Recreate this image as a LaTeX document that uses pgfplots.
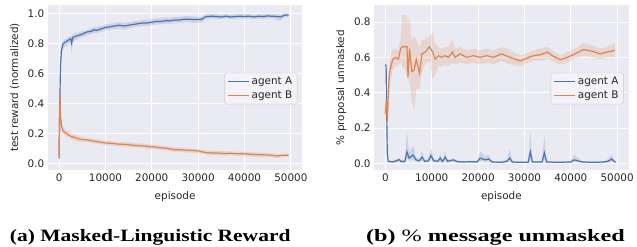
\documentclass[border=0pt]{standalone}
\usepackage{pgfplots}
\pgfplotsset{compat=1.18}
\usepackage{pgfplotstable}
\usepgfplotslibrary{fillbetween}
\usepackage{fontspec}
\setmainfont{Liberation Serif}
\newfontfamily\dejavu{DejaVu Sans}
\newcommand\sbfont{\dejavu\fontsize{10.5}{12}\selectfont}
\usepackage{graphicx}
\definecolor{sbbg}{HTML}{EAEAF2}
\definecolor{sbblue}{HTML}{4C72B0}
\definecolor{sborange}{HTML}{DD8452}
\definecolor{sbtext}{HTML}{262626}

\pgfplotstableread{
x y lo hi
0 0.03 0.00 0.06
100 0.30 0.20 0.40
200 0.48 0.40 0.55
300 0.65 0.60 0.70
500 0.75 0.72 0.78
800 0.79 0.76 0.81
1000 0.80 0.77 0.82
1500 0.81 0.78 0.83
2000 0.82 0.79 0.84
2500 0.83 0.80 0.85
2700 0.80 0.73 0.84
3000 0.84 0.81 0.86
3500 0.845 0.82 0.87
4000 0.85 0.83 0.87
5000 0.86 0.84 0.88
6000 0.875 0.85 0.89
7000 0.88 0.86 0.90
7500 0.89 0.87 0.91
8000 0.885 0.865 0.905
9000 0.895 0.875 0.915
10000 0.905 0.885 0.925
11000 0.91 0.89 0.93
12000 0.915 0.895 0.935
13000 0.92 0.90 0.94
14000 0.915 0.89 0.935
15000 0.92 0.90 0.94
16000 0.925 0.905 0.945
17000 0.93 0.91 0.95
18000 0.935 0.915 0.955
19000 0.935 0.915 0.955
20000 0.94 0.92 0.96
21000 0.945 0.925 0.965
22000 0.945 0.925 0.965
23000 0.95 0.93 0.97
24000 0.95 0.93 0.97
25000 0.955 0.935 0.975
26000 0.955 0.935 0.975
27000 0.96 0.94 0.98
28000 0.96 0.94 0.98
29000 0.958 0.935 0.978
30000 0.958 0.935 0.975
30800 0.96 0.94 0.975
31500 0.975 0.96 0.99
32000 0.978 0.96 0.995
33000 0.98 0.965 0.995
34000 0.978 0.96 0.995
35000 0.975 0.96 0.99
36000 0.98 0.965 0.995
37000 0.975 0.96 0.99
38000 0.978 0.96 0.995
39000 0.98 0.965 0.995
40000 0.978 0.96 0.995
41000 0.98 0.965 0.995
42000 0.975 0.96 0.99
43000 0.98 0.965 0.995
44000 0.978 0.96 0.995
45000 0.982 0.965 0.997
46000 0.98 0.965 0.995
47000 0.978 0.955 0.995
47800 0.975 0.95 0.99
48500 0.985 0.97 1.0
49000 0.988 0.975 1.0
49500 0.988 0.975 0.998
}\LA

\pgfplotstableread{
x y lo hi
0 0.04 0.00 0.08
100 0.30 0.22 0.38
200 0.46 0.42 0.48
300 0.32 0.28 0.36
500 0.25 0.22 0.28
800 0.22 0.20 0.245
1000 0.21 0.19 0.235
1500 0.20 0.18 0.225
2000 0.19 0.17 0.215
2500 0.18 0.16 0.20
3000 0.175 0.155 0.195
3500 0.17 0.15 0.19
4000 0.165 0.145 0.185
4500 0.16 0.14 0.18
5000 0.158 0.14 0.175
6000 0.155 0.14 0.17
7000 0.15 0.135 0.165
8000 0.145 0.13 0.16
9000 0.14 0.125 0.155
10000 0.135 0.12 0.15
11000 0.133 0.118 0.148
12000 0.13 0.115 0.145
13000 0.127 0.112 0.142
14000 0.126 0.11 0.14
15000 0.123 0.107 0.14
16000 0.12 0.105 0.135
17000 0.117 0.10 0.132
18000 0.116 0.10 0.13
19000 0.112 0.097 0.127
20000 0.11 0.094 0.125
21000 0.107 0.092 0.122
22000 0.102 0.087 0.117
23000 0.10 0.085 0.115
24000 0.095 0.08 0.11
25000 0.09 0.075 0.105
26000 0.09 0.075 0.105
27000 0.088 0.073 0.103
28000 0.086 0.071 0.101
29000 0.084 0.069 0.099
30000 0.082 0.067 0.097
31000 0.075 0.06 0.09
32000 0.07 0.055 0.085
33000 0.068 0.053 0.083
34000 0.068 0.053 0.083
35000 0.066 0.051 0.081
36000 0.065 0.05 0.08
37000 0.066 0.051 0.081
38000 0.064 0.049 0.079
39000 0.063 0.048 0.078
40000 0.063 0.048 0.078
41000 0.06 0.045 0.075
42000 0.058 0.043 0.073
43000 0.057 0.042 0.072
44000 0.056 0.041 0.071
45000 0.055 0.04 0.07
46000 0.052 0.037 0.067
47000 0.048 0.035 0.062
48000 0.052 0.04 0.065
49000 0.053 0.043 0.063
49500 0.054 0.046 0.063
}\LB

\pgfplotstableread{
x y lo hi
0 0.56 0.45 0.60
150 0.55 0.45 0.65
250 0.35 0.25 0.50
400 0.06 0.02 0.15
600 0.012 0.005 0.02
1500 0.008 0.003 0.015
2500 0.015 0.008 0.025
2900 0.022 0.012 0.035
3400 0.01 0.004 0.018
4200 0.012 0.005 0.02
4650 0.065 0.03 0.18
5100 0.03 0.015 0.06
5950 0.048 0.02 0.10
6600 0.02 0.01 0.035
7300 0.015 0.008 0.025
7900 0.035 0.015 0.07
8500 0.012 0.006 0.02
9300 0.015 0.008 0.025
9820 0.045 0.02 0.09
10400 0.015 0.008 0.025
11300 0.012 0.006 0.02
11830 0.03 0.012 0.06
12300 0.01 0.005 0.018
12900 0.035 0.015 0.065
13400 0.012 0.006 0.02
14700 0.02 0.01 0.03
15500 0.01 0.005 0.015
17000 0.008 0.004 0.012
18500 0.01 0.005 0.015
19800 0.008 0.004 0.012
20440 0.03 0.015 0.07
21500 0.02 0.01 0.04
22300 0.025 0.012 0.05
23000 0.008 0.004 0.012
25000 0.006 0.003 0.01
26200 0.012 0.006 0.02
26820 0.03 0.012 0.08
27400 0.008 0.004 0.012
29000 0.006 0.003 0.01
30800 0.006 0.003 0.01
31270 0.065 0.02 0.18
31700 0.008 0.004 0.012
33800 0.008 0.004 0.012
34280 0.06 0.02 0.16
34800 0.008 0.004 0.012
37000 0.006 0.003 0.01
40000 0.008 0.004 0.012
40740 0.02 0.01 0.05
41500 0.015 0.008 0.03
42500 0.008 0.004 0.012
45000 0.006 0.003 0.01
47200 0.008 0.004 0.012
48000 0.012 0.006 0.025
48850 0.025 0.012 0.05
49300 0.012 0.006 0.02
49700 0.008 0.004 0.012
}\RA

\pgfplotstableread{
x y lo hi
0 0.28 0.25 0.32
200 0.36 0.30 0.40
400 0.24 0.20 0.30
800 0.49 0.40 0.58
1200 0.55 0.48 0.62
1600 0.59 0.53 0.65
2200 0.60 0.55 0.65
2800 0.59 0.55 0.64
3300 0.65 0.58 0.72
3600 0.66 0.55 0.84
4200 0.66 0.53 0.84
4650 0.66 0.50 0.83
4880 0.49 0.45 0.80
5200 0.65 0.48 0.82
5700 0.52 0.35 0.70
6200 0.53 0.30 0.72
6650 0.59 0.42 0.70
7370 0.51 0.42 0.66
7870 0.62 0.52 0.70
8580 0.63 0.56 0.70
9510 0.66 0.58 0.72
10230 0.63 0.47 0.74
10730 0.59 0.50 0.68
11450 0.61 0.55 0.66
12170 0.60 0.55 0.65
12890 0.61 0.56 0.66
13600 0.60 0.55 0.66
14460 0.63 0.57 0.70
15030 0.60 0.56 0.65
16110 0.62 0.57 0.66
17540 0.60 0.56 0.64
18970 0.61 0.57 0.65
20410 0.60 0.56 0.64
21840 0.61 0.57 0.65
23280 0.60 0.56 0.64
25070 0.62 0.58 0.66
26960 0.60 0.56 0.64
29110 0.58 0.55 0.61
30900 0.60 0.57 0.63
31980 0.61 0.58 0.64
33420 0.615 0.58 0.65
35000 0.63 0.59 0.66
36000 0.61 0.58 0.64
37720 0.588 0.56 0.61
39160 0.60 0.57 0.63
40600 0.616 0.59 0.645
42740 0.644 0.61 0.68
44890 0.634 0.60 0.665
46320 0.62 0.59 0.65
47760 0.63 0.60 0.66
49500 0.64 0.60 0.68
}\RB

\pgfplotsset{
  sb/.style={
    scale only axis, width=256bp, height=166bp, anchor=south west,
    axis background/.style={fill=sbbg},
    axis line style={draw=none},
    grid=major, major grid style={white, line width=0.9bp},
    major tick length=0pt, tick style={draw=none},
    xmin=-2450, xmax=52500,
    xtick={0,10000,20000,30000,40000,50000},
    scaled ticks=false,
    /pgf/number format/assume math mode=true,
    ticklabel style={font=\sbfont, text=sbtext},
    xticklabel style={/pgf/number format/set thousands separator={}},
    yticklabel style={/pgf/number format/fixed, /pgf/number format/fixed zerofill, /pgf/number format/precision=1},
    xlabel={\sbfont episode},
    every axis x label/.style={at={(axis description cs:0.5,-0.163)}, anchor=center, text=sbtext},
    every axis y label/.style={at={(axis description cs:-0.129,0.5)}, rotate=90, anchor=center, text=sbtext},
    legend style={at={(0.98,0.494)}, anchor=east, fill=sbbg!60!white, draw=black!20, rounded corners=2bp,
      inner xsep=3bp, inner ysep=2bp, row sep=1bp},
    legend cell align=left,
    legend image code/.code={\draw[##1] (0bp,0bp) -- (21bp,0bp);},
  },
}

\begin{document}
\begin{tikzpicture}
\path (0,0) rectangle (637bp,248bp);
\begin{axis}[sb, at={(48bp,77bp)}, ymin=-0.046, ymax=1.055,
  ytick={0,0.2,0.4,0.6,0.8,1.0}, ylabel={\sbfont test reward (normalized)}]
  \addplot[draw=none, name path=aH, forget plot] table[x=x,y=hi]{\LA};
  \addplot[draw=none, name path=aL, forget plot] table[x=x,y=lo]{\LA};
  \addplot[draw=none, fill=sbblue, fill opacity=0.2, forget plot] fill between[of=aH and aL];
  \addplot[draw=none, name path=bH, forget plot] table[x=x,y=hi]{\LB};
  \addplot[draw=none, name path=bL, forget plot] table[x=x,y=lo]{\LB};
  \addplot[draw=none, fill=sborange, fill opacity=0.2, forget plot] fill between[of=bH and bL];
  \addplot[draw=sbblue, line width=1.2bp] table[x=x,y=y]{\LA};
  \addlegendentry{\sbfont\color{sbtext}agent A}
  \addplot[draw=sborange, line width=1.2bp] table[x=x,y=y]{\LB};
  \addlegendentry{\sbfont\color{sbtext}agent B}
\end{axis}
\begin{axis}[sb, at={(376bp,77bp)}, ymin=-0.038, ymax=0.897,
  ytick={0,0.2,0.4,0.6,0.8}, ylabel={\sbfont \% proposal unmasked}]
  \addplot[draw=none, name path=aH, forget plot] table[x=x,y=hi]{\RA};
  \addplot[draw=none, name path=aL, forget plot] table[x=x,y=lo]{\RA};
  \addplot[draw=none, fill=sbblue, fill opacity=0.2, forget plot] fill between[of=aH and aL];
  \addplot[draw=none, name path=bH, forget plot] table[x=x,y=hi]{\RB};
  \addplot[draw=none, name path=bL, forget plot] table[x=x,y=lo]{\RB};
  \addplot[draw=none, fill=sborange, fill opacity=0.2, forget plot] fill between[of=bH and bL];
  \addplot[draw=sbblue, line width=1.2bp] table[x=x,y=y]{\RA};
  \addlegendentry{\sbfont\color{sbtext}agent A}
  \addplot[draw=sborange, line width=1.2bp] table[x=x,y=y]{\RB};
  \addlegendentry{\sbfont\color{sbtext}agent B}
\end{axis}
\node[anchor=base, inner sep=0pt] at (151bp,5.3bp) {\resizebox{282bp}{\height}{\fontsize{17.5}{20}\selectfont\bfseries (a) Masked-Linguistic Reward}};
\node[anchor=base, inner sep=0pt] at (498bp,5.3bp) {\resizebox{260bp}{\height}{\fontsize{17.5}{20}\selectfont\bfseries (b) {\mdseries\%} message unmasked}};
\end{tikzpicture}
\end{document}
